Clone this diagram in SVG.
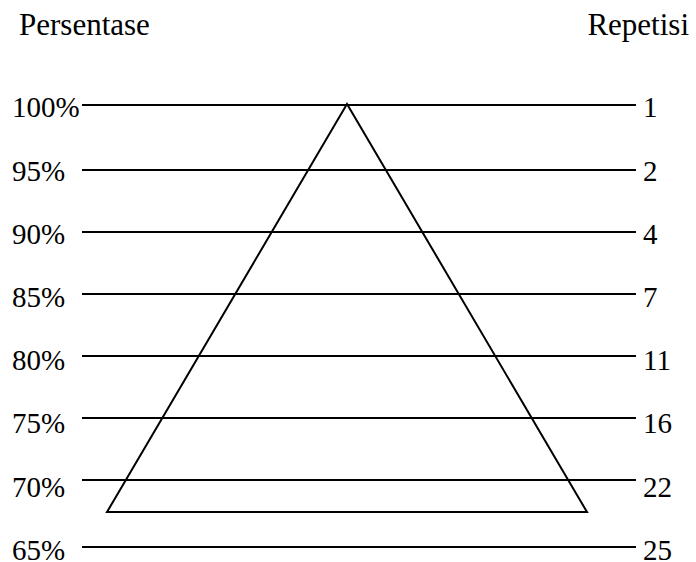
<svg xmlns="http://www.w3.org/2000/svg" width="696" height="562" viewBox="0 0 696 562">
<style>
text{font-family:'Liberation Serif','Times New Roman','DejaVu Serif',serif;fill:#000}
.h{font-size:31px}
.l{font-size:29px}
.r{font-size:29px}
.ln{stroke:#000;stroke-width:2;fill:none}
.tri{stroke:#000;stroke-width:2;fill:none;stroke-linejoin:miter}
</style>
<rect width="696" height="562" fill="#fff"/>
<g id="headers" font-family="Liberation Serif, serif">
<text class="h" x="19" y="35">Persentase</text>
<text class="h" x="689" y="35" text-anchor="end">Repetisi</text>
</g>
<g id="connectors">
<line class="ln" x1="82" y1="105" x2="636" y2="105"/>
<line class="ln" x1="82" y1="170" x2="636" y2="170"/>
<line class="ln" x1="82" y1="232" x2="636" y2="232"/>
<line class="ln" x1="82" y1="294" x2="636" y2="294"/>
<line class="ln" x1="82" y1="356" x2="636" y2="356"/>
<line class="ln" x1="82" y1="418" x2="636" y2="418"/>
<line class="ln" x1="82" y1="480" x2="636" y2="480"/>
<line class="ln" x1="82" y1="547" x2="636" y2="547"/>
</g>
<g id="triangle">
<polygon class="tri" points="347,104 107,512 587,512"/>
</g>
<g id="percent-labels" font-family="Liberation Serif, serif">
<text class="l" x="12" y="117">100%</text>
<text class="l" x="12" y="181">95%</text>
<text class="l" x="12" y="244">90%</text>
<text class="l" x="12" y="307">85%</text>
<text class="l" x="12" y="370">80%</text>
<text class="l" x="12" y="433">75%</text>
<text class="l" x="12" y="497">70%</text>
<text class="l" x="12" y="560">65%</text>
</g>
<g id="rep-labels" font-family="Liberation Serif, serif">
<text class="r" x="643" y="117">1</text>
<text class="r" x="643" y="181">2</text>
<text class="r" x="643" y="244">4</text>
<text class="r" x="643" y="307">7</text>
<text class="r" x="643" y="370">11</text>
<text class="r" x="643" y="433">16</text>
<text class="r" x="643" y="497">22</text>
<text class="r" x="643" y="560">25</text>
</g>
</svg>
